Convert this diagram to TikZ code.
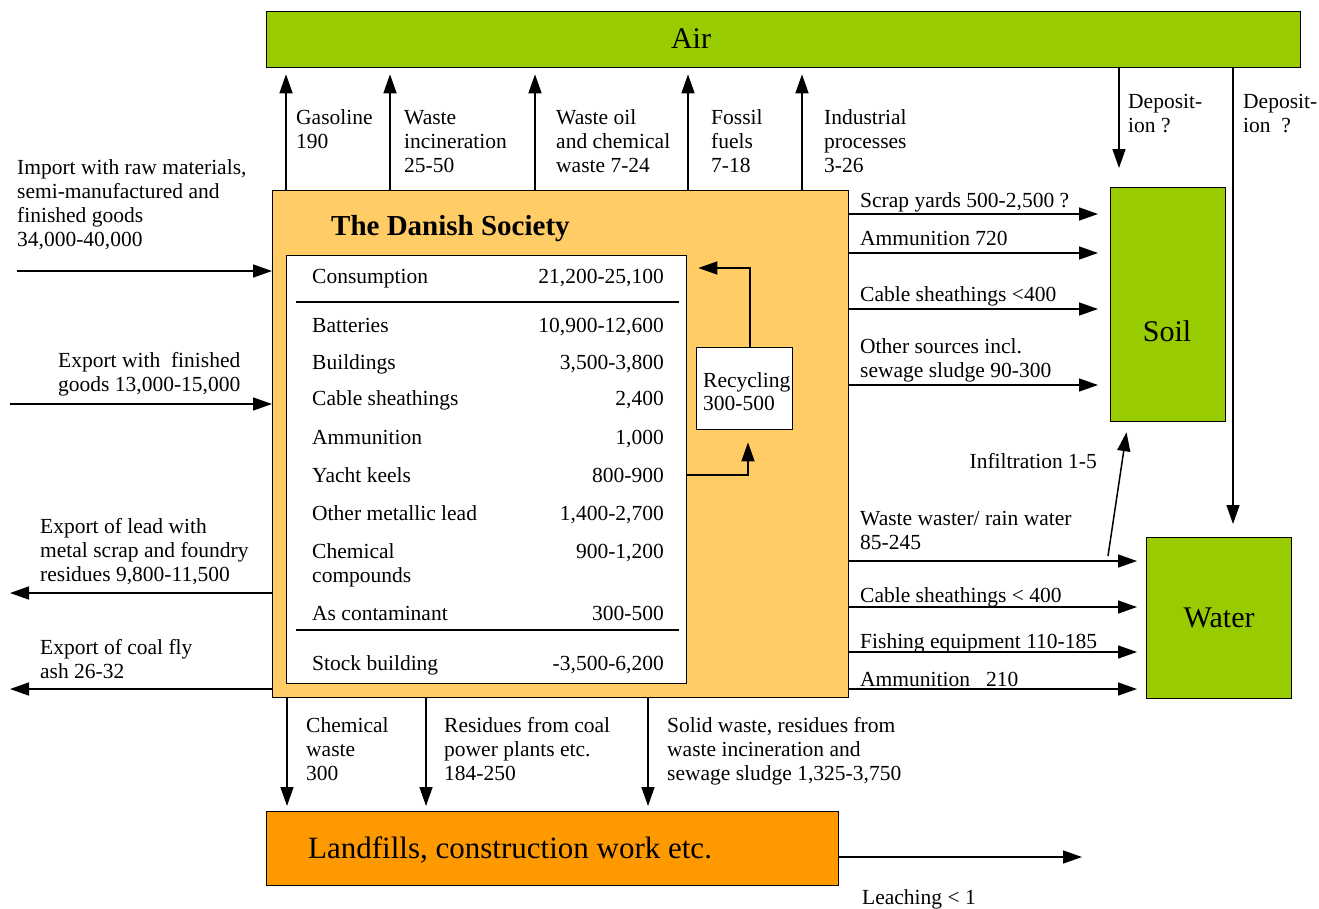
\documentclass[tikz,border=0pt]{standalone}
\usepackage{fontspec}
\setmainfont{Liberation Serif}
\usetikzlibrary{arrows.meta,positioning}
\definecolor{envgreen}{HTML}{99CC00}
\definecolor{socorange}{HTML}{FFCC66}
\definecolor{landorange}{HTML}{FF9900}

\begin{document}
\begin{tikzpicture}[
    x=1pt, y=-1pt,
    box/.style={draw, line width=1.3pt, inner sep=0pt, anchor=north west},
    lbl/.style={anchor=base west, inner sep=0pt, align=left, font=\fontsize{21.5}{24}\selectfont},
    val/.style={anchor=base east, inner sep=0pt, font=\fontsize{21.5}{24}\selectfont},
    big/.style={inner sep=0pt, font=\fontsize{30}{34}\selectfont},
    rule/.style={line width=2.6pt},
    arrow/.style={-{Triangle[length=19pt,width=13pt]}, line width=1.5pt}
]
\useasboundingbox (0,0) rectangle (1319,908);

% boxes
\node[box, fill=envgreen, minimum width=1034pt, minimum height=56pt] (air) at (266,11) {};
\node[box, fill=socorange, minimum width=576pt, minimum height=507pt] (soc) at (272,190) {};
\node[box, fill=white, minimum width=400pt, minimum height=428pt] (tab) at (286,255) {};
\node[box, fill=white, minimum width=96pt, minimum height=82pt] (rec) at (696,347) {};
\node[box, fill=envgreen, minimum width=115pt, minimum height=234pt] (soil) at (1110,187) {};
\node[box, fill=envgreen, minimum width=145pt, minimum height=161pt, big] (water) at (1146,537) {Water};
\node[box, fill=landorange, minimum width=572pt, minimum height=74pt] (land) at (266,811) {};

\node[big, anchor=base] (airtxt) at (691,48) {Air};
\node[big] (soiltxt) at (1167,331) {Soil};
\node[big, anchor=base west, font=\fontsize{31}{34}\selectfont] (landtxt) at (308,858) {Landfills, construction work etc.};
\node[anchor=base west, inner sep=0pt, font=\bfseries\fontsize{29}{34}\selectfont] (title) at (331,235) {The Danish Society};
\node[lbl, font=\fontsize{21.5}{23}\selectfont] (rectxt) at (703,410) {Recycling\\300-500};

% table
\node[lbl] (consL) at (312,283) {Consumption};
\node[val] (consR) at (664,283) {21,200-25,100};
\draw[rule] (296,302) -- (679,302);
\node[lbl] (batL) at (312,332) {Batteries};
\node[val] (batR) at (664,332) {10,900-12,600};
\node[lbl] (bldL) at (312,369) {Buildings};
\node[val] (bldR) at (664,369) {3,500-3,800};
\node[lbl] (cabL) at (312,405) {Cable sheathings};
\node[val] (cabR) at (664,405) {2,400};
\node[lbl] (ammL) at (312,444) {Ammunition};
\node[val] (ammR) at (664,444) {1,000};
\node[lbl] (yacL) at (312,482) {Yacht keels};
\node[val] (yacR) at (664,482) {800-900};
\node[lbl] (othL) at (312,520) {Other metallic lead};
\node[val] (othR) at (664,520) {1,400-2,700};
\node[lbl] (chmL) at (312,582) {Chemical\\compounds};
\node[val] (chmR) at (664,558) {900-1,200};
\node[lbl] (conL) at (312,620) {As contaminant};
\node[val] (conR) at (664,620) {300-500};
\draw[rule] (296,630) -- (679,630);
\node[lbl] (stkL) at (312,670) {Stock building};
\node[val] (stkR) at (664,670) {-3,500-6,200};

% labels (base = last line)
\node[lbl] (gas) at (296,148) {Gasoline\\190};
\node[lbl] (winc) at (404,172) {Waste\\incineration\\25-50};
\node[lbl] (woil) at (556,172) {Waste oil\\and chemical\\waste 7-24};
\node[lbl] (fossil) at (711,172) {Fossil\\fuels\\7-18};
\node[lbl] (indus) at (824,172) {Industrial\\processes\\3-26};
\node[lbl] (dep1) at (1128,132) {Deposit-\\ion ?};
\node[lbl] (dep2) at (1243,132) {Deposit-\\ion ~?};
\node[lbl] (imp) at (17,246) {Import with raw materials,\\semi-manufactured and\\finished goods\\34,000-40,000};
\node[lbl] (expfin) at (58,391) {Export with~ finished\\goods 13,000-15,000};
\node[lbl] (explead) at (40,581) {Export of lead with\\metal scrap and foundry\\residues 9,800-11,500};
\node[lbl] (expash) at (40,678) {Export of coal fly\\ash 26-32};
\node[lbl] (scrap) at (860,207) {Scrap yards 500-2,500 ?};
\node[lbl] (ammo1) at (860,245) {Ammunition 720};
\node[lbl] (cab1) at (860,301) {Cable sheathings <400};
\node[lbl] (other) at (860,377) {Other sources incl.\\sewage sludge 90-300};
\node[lbl, anchor=base east] (infil) at (1097,468) {Infiltration 1-5};
\node[lbl] (wwater) at (860,549) {Waste waster/ rain water\\85-245};
\node[lbl] (cab2) at (860,602) {Cable sheathings < 400};
\node[lbl] (fish) at (860,648) {Fishing equipment 110-185};
\node[lbl] (ammo2) at (860,686) {Ammunition~~~210};
\node[lbl] (chem) at (306,780) {Chemical\\waste\\300};
\node[lbl] (coal) at (444,780) {Residues from coal\\power plants etc.\\184-250};
\node[lbl] (solid) at (667,780) {Solid waste, residues from\\waste incineration and\\sewage sludge 1,325-3,750};
\node[lbl] (leach) at (862,904) {Leaching < 1};

% free ends
\coordinate (impS) at (17,271);
\coordinate (expfinS) at (10,404);
\coordinate (expleadE) at (10,593);
\coordinate (expashE) at (10,689);
\coordinate (leachE) at (1082,857);
\coordinate (infS) at (1108,556);

% to air
\draw[arrow, shorten >=6pt] (286,0 |- soc.north) -- (286,0 |- air.south);
\draw[arrow, shorten >=6pt] (390,0 |- soc.north) -- (390,0 |- air.south);
\draw[arrow, shorten >=6pt] (535,0 |- soc.north) -- (535,0 |- air.south);
\draw[arrow, shorten >=6pt] (688,0 |- soc.north) -- (688,0 |- air.south);
\draw[arrow, shorten >=6pt] (802,0 |- soc.north) -- (802,0 |- air.south);
% deposition
\draw[arrow, shorten >=19pt] (1119,0 |- air.south) -- (1119,0 |- soil.north);
\draw[arrow, shorten >=13pt] (1233,0 |- air.south) -- (1233,0 |- water.north);
% left side
\draw[arrow] (impS) -- (soc.west |- impS);
\draw[arrow] (expfinS) -- (soc.west |- expfinS);
\draw[arrow] (soc.west |- expleadE) -- (expleadE);
\draw[arrow] (soc.west |- expashE) -- (expashE);
% to soil
\draw[arrow, shorten >=12pt] (soc.east |- 0,214) -- (soil.west |- 0,214);
\draw[arrow, shorten >=12pt] (soc.east |- 0,253) -- (soil.west |- 0,253);
\draw[arrow, shorten >=12pt] (soc.east |- 0,309) -- (soil.west |- 0,309);
\draw[arrow, shorten >=12pt] (soc.east |- 0,385) -- (soil.west |- 0,385);
% to water
\draw[arrow, shorten >=9pt] (soc.east |- 0,561) -- (water.west |- 0,561);
\draw[arrow, shorten >=9pt] (soc.east |- 0,607) -- (water.west |- 0,607);
\draw[arrow, shorten >=9pt] (soc.east |- 0,652) -- (water.west |- 0,652);
\draw[arrow, shorten >=9pt] (soc.east |- 0,689) -- (water.west |- 0,689);
\draw[arrow, shorten >=10pt] (infS) -- (1128,0 |- soil.south);
% recycling
\draw[arrow, shorten >=11pt] (750,0 |- rec.north) |- (tab.east |- 0,268);
\draw[arrow, shorten >=12pt] (tab.east |- 0,475) -| (748,0 |- rec.south);
% to landfills
\draw[arrow, shorten >=5pt] (287,0 |- soc.south) -- (287,0 |- land.north);
\draw[arrow, shorten >=5pt] (426,0 |- soc.south) -- (426,0 |- land.north);
\draw[arrow, shorten >=5pt] (648,0 |- soc.south) -- (648,0 |- land.north);
\draw[arrow] (land.east |- leachE) -- (leachE);
\end{tikzpicture}
\end{document}
